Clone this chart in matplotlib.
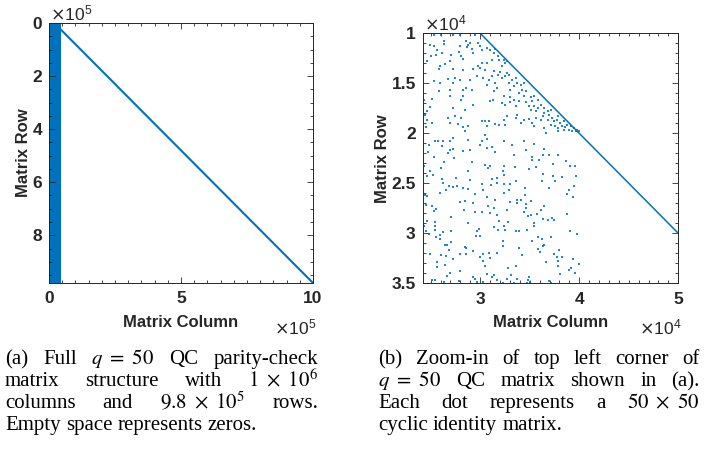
import matplotlib
matplotlib.use("Agg")
import matplotlib.pyplot as plt
from matplotlib.ticker import MultipleLocator, FuncFormatter

plt.rcParams['font.family'] = 'Liberation Sans'
plt.rcParams['mathtext.fontset'] = 'stix'

BLUE = '#0072BD'
INK = '#262626'

# (a) full parity-check matrix
n_cols = 1.0e6
n_rows = 9.8e5
block_cols = [0.0, 4.5e4]          # dense block of circulants on the left
diag_cols = [2.0e4, 1.0e6]         # staircase diagonal
diag_rows = [0.0, 9.8e5]

# (b) zoom-in, every dot = one 50x50 circulant, (column, row) in thousands
zoom_cols = [24.2e3, 50.0e3]
zoom_rows = [10.0e3, 35.0e3]
dots = [
    # rows 10-16, cols 24-32
    (25.3, 10.2), (26.0, 10.2), (27.3, 10.2), (28.0, 10.2), (29.5, 10.2),
    (24.9, 11.2), (25.3, 11.3), (26.3, 10.8), (26.4, 11.1), (25.6, 11.7),
    (25.5, 12.2), (26.1, 12.0), (25.0, 12.3), (24.6, 12.8), (27.1, 12.2),
    (27.0, 12.8), (28.0, 11.3), (27.9, 11.9), (28.6, 10.8), (28.8, 11.2),
    (29.0, 11.0), (28.7, 11.4), (29.2, 11.6), (29.8, 11.0), (30.0, 11.3),
    (30.2, 11.7), (29.3, 12.0), (28.1, 12.3), (28.3, 12.6), (30.7, 11.5),
    (31.0, 11.7), (31.4, 12.0), (31.5, 11.6), (31.8, 12.3), (31.9, 12.7),
    (31.2, 12.7), (30.7, 13.0), (30.2, 13.0), (29.8, 13.3), (26.5, 13.1),
    (25.9, 13.3), (25.8, 13.6), (27.3, 13.6), (28.3, 13.7), (29.3, 13.6),
    (30.0, 13.5), (30.5, 13.7), (31.4, 13.8), (31.8, 14.2), (32.0, 13.9),
    (31.2, 14.3), (30.9, 14.7), (30.3, 14.5), (29.7, 14.3), (29.0, 14.7),
    (28.0, 14.7), (27.5, 14.5), (26.8, 14.6), (27.3, 15.0), (28.3, 15.7),
    (28.6, 15.5), (29.2, 15.7), (27.0, 15.7), (25.8, 15.8), (25.9, 15.0),
    (25.3, 14.8), (24.2, 14.7), (30.7, 15.2), (31.5, 15.0), (31.7, 15.5),
    (31.4, 15.8),
    # rows 10-16, cols 32-40
    (32.4, 12.7), (32.5, 13.0), (32.7, 12.8), (32.2, 13.3), (32.7, 14.0),
    (32.9, 14.2), (32.5, 14.3), (32.2, 14.5), (33.2, 14.7), (33.6, 14.5),
    (33.7, 15.0), (34.1, 15.2), (33.4, 15.3), (32.9, 15.0), (34.2, 15.7),
    (34.6, 15.8), (33.9, 16.0), (33.0, 15.7), (34.4, 15.0),
    # rows 16-22.5, cols 24-32
    (24.3, 16.7), (25.1, 16.6), (27.0, 16.3), (28.1, 16.7), (28.3, 16.3),
    (31.0, 16.8), (31.3, 16.7), (29.3, 17.2), (24.9, 17.4), (27.3, 17.5),
    (28.5, 17.7), (24.6, 17.8), (24.4, 18.2), (27.5, 18.3), (28.1, 18.5),
    (26.8, 18.5), (24.6, 18.7), (24.2, 18.6), (30.2, 18.8), (30.5, 18.8),
    (30.9, 18.8), (27.0, 19.0), (27.8, 19.1), (25.1, 19.0), (31.5, 19.1),
    (31.9, 19.2), (28.8, 19.3), (28.3, 19.4), (30.7, 19.3), (24.5, 19.4),
    (28.5, 19.8), (24.2, 20.1), (30.5, 20.2), (27.3, 20.5), (28.8, 20.7),
    (30.7, 20.6), (25.4, 20.8), (25.7, 20.8), (26.2, 20.8), (27.0, 20.8),
    (30.2, 20.8), (24.8, 21.2), (26.1, 21.3), (30.0, 21.2), (31.2, 21.4),
    (30.7, 21.5), (27.3, 21.6), (27.0, 21.7), (28.3, 21.8), (29.0, 21.7),
    (26.8, 22.0), (31.5, 21.9), (24.7, 21.9), (25.3, 22.4), (27.4, 22.5),
    # rows 16-22.5, cols 32-40 (dense band under the diagonal)
    (32.4, 16.3), (33.0, 16.4), (33.4, 16.7), (34.4, 16.3), (35.1, 16.4),
    (35.4, 16.3), (32.2, 17.0), (32.5, 17.2), (33.0, 16.9), (33.9, 16.8),
    (34.6, 16.9), (35.2, 16.8), (35.8, 16.7), (33.6, 17.3), (34.9, 17.3),
    (35.4, 17.3), (35.8, 17.5), (36.1, 17.2), (36.4, 17.5), (35.1, 17.7),
    (35.6, 17.8), (36.4, 18.0), (36.8, 17.8), (36.9, 18.2), (37.1, 17.7),
    (32.7, 18.3), (33.6, 18.5), (33.7, 18.2), (34.4, 18.7), (34.9, 18.6),
    (35.6, 18.5), (36.1, 18.7), (36.3, 18.3), (36.8, 18.7), (37.3, 18.5),
    (37.5, 18.8), (37.8, 18.7), (37.9, 18.3), (38.1, 19.0), (38.5, 18.8),
    (34.1, 19.0), (35.2, 19.0), (35.4, 19.3), (36.4, 19.5), (37.1, 19.2),
    (37.6, 19.3), (37.9, 19.5), (38.3, 19.3), (38.6, 19.4), (38.8, 19.2),
    (39.0, 19.7), (39.2, 19.3), (39.3, 19.8), (39.5, 19.5), (39.7, 19.8),
    (39.8, 19.7), (40.0, 19.8), (38.5, 19.7), (37.9, 19.8), (32.4, 18.7),
    (32.5, 19.2), (36.6, 20.0), (32.4, 20.8), (34.4, 20.8), (35.4, 21.1),
    (36.4, 21.6), (33.2, 21.2), (33.4, 22.2), (34.6, 21.7), (36.3, 22.2),
    (36.9, 22.2), (37.9, 22.2), (35.2, 22.4), (35.9, 22.7),
    # rows 22.5-29, cols 24-32
    (24.3, 23.3), (24.9, 23.8), (25.2, 24.2), (24.6, 24.3), (24.2, 23.7),
    (26.0, 23.5), (26.4, 22.9), (29.2, 22.9), (30.5, 23.2), (30.8, 23.5),
    (31.0, 23.3), (28.8, 23.8), (27.6, 24.5), (26.1, 24.6), (29.0, 24.7),
    (31.2, 24.6), (31.7, 24.5), (26.2, 25.0), (30.2, 25.1), (31.1, 25.2),
    (31.7, 25.0), (26.9, 25.3), (27.3, 25.4), (27.7, 25.3), (28.3, 25.5),
    (28.8, 25.6), (26.6, 25.7), (30.3, 25.7), (25.9, 26.0), (24.4, 26.2),
    (24.6, 26.3), (29.5, 26.1), (30.7, 26.4), (28.0, 26.9), (28.5, 26.8),
    (29.3, 27.0), (31.5, 26.7), (24.5, 27.2), (25.1, 27.3), (25.5, 27.6),
    (30.8, 27.3), (31.4, 27.5), (28.4, 27.7), (25.3, 27.8), (30.2, 27.9),
    (29.5, 27.9), (31.0, 28.0), (31.7, 28.2), (27.1, 28.4), (24.6, 28.8),
    (25.4, 28.9), (28.8, 29.0), (31.9, 28.8),
    # rows 22.5-29, cols 32-40
    (35.2, 22.7), (32.4, 23.3), (33.5, 23.4), (34.9, 23.6), (35.6, 23.4),
    (37.4, 23.1), (38.7, 22.8), (39.1, 23.3), (39.6, 23.3), (32.3, 23.8),
    (32.4, 24.2), (36.3, 24.1), (37.4, 24.3), (38.3, 24.4), (39.7, 24.3),
    (33.6, 24.8), (36.2, 24.8), (37.6, 24.8), (32.4, 25.1), (33.0, 25.1),
    (39.5, 25.3), (36.9, 25.5), (34.5, 25.5), (32.9, 25.7), (39.0, 25.7),
    (32.4, 26.0), (38.8, 26.1), (34.5, 26.2), (39.4, 26.4), (33.7, 26.7),
    (34.1, 26.7), (35.1, 26.8), (33.0, 26.9), (33.7, 27.0), (34.6, 27.1),
    (36.4, 27.3), (32.7, 27.7), (34.6, 27.5), (36.1, 27.7), (34.4, 27.9),
    (35.7, 28.1), (35.1, 28.2), (34.8, 28.3), (38.8, 28.1), (37.3, 28.5),
    (36.8, 28.7), (36.3, 28.6), (37.5, 28.7), (32.8, 28.9), (35.4, 29.0),
    # rows 29-35, cols 24-32
    (24.3, 29.3), (25.4, 29.3), (24.5, 29.8), (25.4, 29.7), (26.2, 29.9),
    (27.1, 29.8), (29.9, 29.6), (29.7, 29.8), (31.4, 29.4), (31.8, 29.7),
    (24.8, 30.1), (25.9, 30.2), (25.5, 30.4), (25.9, 30.6), (29.6, 30.3),
    (30.0, 30.3), (27.1, 30.9), (24.2, 31.0), (26.5, 31.2), (26.7, 31.2),
    (26.9, 31.7), (28.5, 31.4), (28.6, 31.5), (29.3, 31.8), (24.9, 32.1),
    (26.0, 32.2), (26.6, 32.3), (28.0, 32.1), (28.6, 32.1), (30.3, 32.1),
    (30.9, 32.0), (31.7, 32.0), (27.3, 32.6), (30.0, 32.4), (31.0, 32.5),
    (24.2, 33.2), (25.6, 32.9), (30.3, 32.8), (25.6, 33.4), (26.5, 33.2),
    (30.5, 33.3), (27.0, 34.0), (28.0, 33.8), (30.7, 34.1), (31.4, 34.2),
    (31.2, 34.4), (26.7, 34.3), (25.1, 34.7), (25.4, 34.7), (27.9, 34.8),
    (29.3, 34.4), (29.5, 34.6), (29.7, 34.9), (30.3, 34.9), (26.3, 34.9),
    (31.7, 34.7),
    # rows 29-35, cols 32-40
    (32.4, 29.3), (32.5, 29.7), (33.6, 29.8), (33.9, 29.8), (34.7, 29.7),
    (35.4, 29.3), (39.1, 29.8), (39.8, 30.1), (35.8, 30.4), (36.2, 30.6),
    (37.2, 30.4), (32.3, 30.8), (35.2, 30.8), (36.4, 31.2), (36.3, 31.3),
    (32.3, 31.3), (33.9, 31.5), (35.8, 31.6), (38.0, 31.7), (36.0, 31.9),
    (34.2, 32.2), (37.5, 32.1), (37.8, 32.4), (38.3, 32.4), (39.4, 32.6),
    (37.9, 32.8), (36.6, 32.9), (40.0, 33.1), (33.6, 33.3), (32.8, 33.5),
    (37.9, 33.3), (39.2, 33.5), (39.0, 33.7), (39.6, 34.0), (38.1, 34.1),
    (33.1, 34.2), (33.7, 34.6), (32.7, 34.6), (34.9, 34.4), (34.8, 34.7),
    (36.9, 34.8), (37.1, 35.0), (34.7, 35.0), (35.0, 34.9), (32.3, 35.0),
    (33.4, 35.0),
]

caption_a = [
    ["(a)", "Full", r"$q\ =\ 50$", "QC", "parity-check"],
    ["matrix", "structure", "with", r"$1\ \times\ 10^{6}$"],
    ["columns", "and", r"$9.8\ \times\ 10^{5}$", "rows."],
    ["Empty", "space", "represents", "zeros."],
]
caption_b = [
    ["(b)", "Zoom-in", "of", "top", "left", "corner", "of"],
    [r"$q\ =\ 50$", "QC", "matrix", "shown", "in", "(a)."],
    ["Each", "dot", "represents", "a", r"$50\ \times\ 50$"],
    ["cyclic", "identity", "matrix."],
]

W, H = 706, 459
fig = plt.figure(figsize=(W / 100, H / 100), dpi=100)

def px_ax(x0, y0, x1, y1):
    return fig.add_axes([x0 / W, 1 - y1 / H, (x1 - x0) / W, (y1 - y0) / H])

def style_axes(ax, scale):
    fmt = FuncFormatter(lambda v, p: f"{v / scale:g}")
    ax.xaxis.set_major_formatter(fmt)
    ax.yaxis.set_major_formatter(fmt)
    ax.tick_params(which='both', direction='in', top=True, right=True,
                   colors=INK, width=0.6)
    ax.tick_params(which='major', length=4, labelsize=12.5, pad=5)
    ax.tick_params(axis='x', which='major', pad=6)
    ax.tick_params(which='minor', length=2)
    for lab in ax.get_xticklabels() + ax.get_yticklabels():
        lab.set_fontweight('bold')
    for s in ax.spines.values():
        s.set_color(INK)
        s.set_linewidth(0.7)
    ax.set_xlabel('Matrix Column', fontsize=12, fontweight='bold',
                  color=INK, labelpad=6)
    ax.set_ylabel('Matrix Row', fontsize=12, fontweight='bold',
                  color=INK, labelpad=1)

def exp_text(x, y, power):
    fig.text(x / W, 1 - y / H, r'$\times\mathregular{10^{%d}}$' % power,
             fontsize=12.5, color=INK, math_fontfamily='dejavusans',
             ha='left', va='baseline')

# ---- (a)
ax1 = px_ax(49, 23, 313, 283)
ax1.fill_betweenx(diag_rows, block_cols[0], block_cols[1], color=BLUE, lw=0)
ax1.plot(diag_cols, diag_rows, color=BLUE, lw=1.5)
ax1.set_xlim(0, n_cols)
ax1.set_ylim(n_rows, 0)
ax1.xaxis.set_major_locator(MultipleLocator(5e5))
ax1.xaxis.set_minor_locator(MultipleLocator(0.5e5))
ax1.yaxis.set_major_locator(MultipleLocator(2e5))
ax1.yaxis.set_minor_locator(MultipleLocator(0.5e5))
style_axes(ax1, 1e5)
exp_text(50, 20, 5)
exp_text(274, 334, 5)

# ---- (b)
ax2 = px_ax(422.7, 33.3, 678.3, 283.3)
ax2.plot([c * 1e3 for c, r in dots], [r * 1e3 for c, r in dots], 's',
         color=BLUE, ms=1.5, mew=0, alpha=0.85)
ax2.plot(diag_cols, diag_rows, color=BLUE, lw=1.1)
ax2.set_xlim(zoom_cols)
ax2.set_ylim(zoom_rows[1], zoom_rows[0])
ax2.xaxis.set_major_locator(MultipleLocator(1e4))
ax2.xaxis.set_minor_locator(MultipleLocator(1e3))
ax2.yaxis.set_major_locator(MultipleLocator(0.5e4))
ax2.yaxis.set_minor_locator(MultipleLocator(1e3))
style_axes(ax2, 1e4)
exp_text(424, 30, 4)
exp_text(639, 334, 4)

# ---- captions, justified like the paper
fig.canvas.draw()
rend = fig.canvas.get_renderer()

def caption(lines, x0, x1, y0, dy, size=15):
    for i, words in enumerate(lines):
        y = 1 - (y0 + i * dy) / H
        texts = [fig.text(0, y, w, fontsize=size, family='Liberation Serif',
                          color='black', va='baseline') for w in words]
        widths = [t.get_window_extent(rend).width for t in texts]
        if i == len(lines) - 1:
            gap = 0.25 * size * 100 / 72
        else:
            gap = (x1 - x0 - sum(widths)) / (len(words) - 1)
        x = x0
        for t, w in zip(texts, widths):
            t.set_x(x / W)
            x += w + gap

caption(caption_a, 5, 318, 364, 22)
caption(caption_b, 378, 700, 364, 22)

fig.savefig('out.png', dpi=100)
